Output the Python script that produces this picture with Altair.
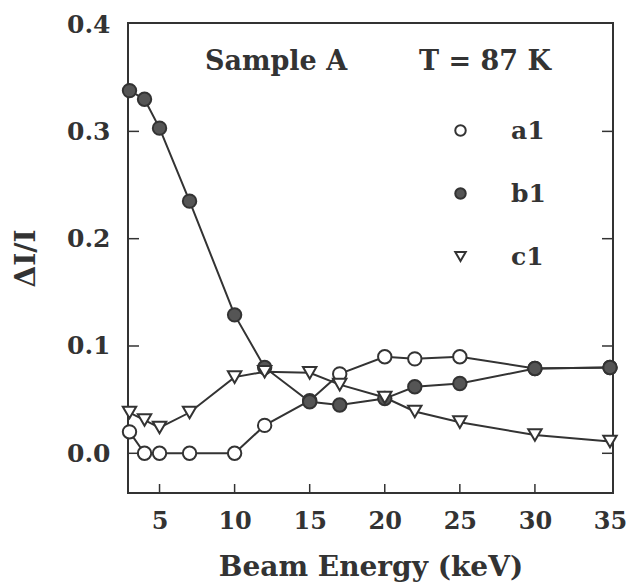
import altair as alt
import pandas as pd

energy = [3, 4, 5, 7, 10, 12, 15, 17, 20, 22, 25, 30, 35]
a1 = [0.020, 0.000, 0.000, 0.000, 0.000, 0.026, 0.049, 0.074, 0.090, 0.088, 0.090, 0.079, 0.080]
b1 = [0.338, 0.330, 0.303, 0.235, 0.129, 0.080, 0.048, 0.045, 0.051, 0.062, 0.065, 0.079, 0.080]
c1 = [0.038, 0.031, 0.024, 0.038, 0.071, 0.076, 0.075, 0.064, 0.052, 0.039, 0.029, 0.017, 0.011]
series_names = ["a1", "b1", "c1"]
x_ticks = [5, 10, 15, 20, 25, 30, 35]
y_ticks = [0.0, 0.1, 0.2, 0.3, 0.4]
title_left = "Sample A"
title_right = "T = 87 K"

rows = []
for name, vals in zip(series_names, [a1, b1, c1]):
    for e, v in zip(energy, vals):
        rows.append({"energy": e, "value": v, "series": name})
df = pd.DataFrame(rows)

W, H = 485, 470
FONT = "DejaVu Serif"
INK = "#333333"

xs = alt.Scale(domain=[2.9, 35.2], nice=False, zero=False)
ys = alt.Scale(domain=[-0.037, 0.401], nice=False, zero=False)

xax = alt.Axis(values=x_ticks, grid=False, domain=False, ticks=False, labelFont=FONT,
               labelFontSize=24, labelFontWeight="bold", labelColor=INK, labelPadding=16,
               title="Beam Energy (keV)", titleFont=FONT, titleFontSize=28, titleFontWeight="bold",
               titleColor=INK, titlePadding=20)
yax = alt.Axis(values=y_ticks, format=".1f", grid=False, domain=False, ticks=False, labelFont=FONT,
               labelFontSize=25, labelFontWeight="bold", labelColor=INK, labelPadding=18,
               title="ΔI/I", titleFont=FONT, titleFontSize=28, titleFontWeight="bold",
               titleColor=INK, titlePadding=26)

leg = alt.Legend(title=None, orient="none", legendX=320, legendY=95, padding=0,
                 labelFont=FONT, labelFontSize=25, labelFontWeight="bold",
                 labelColor=INK, labelOffset=38, rowPadding=37, symbolSize=110,
                 symbolStrokeWidth=2, symbolOpacity=1)

base = alt.Chart(df)
lines = base.mark_line(color=INK, strokeWidth=2).encode(
    x=alt.X("energy:Q", scale=xs, axis=xax),
    y=alt.Y("value:Q", scale=ys, axis=yax),
    detail="series:N",
)
points = base.mark_point(filled=False, size=180, strokeWidth=2, opacity=1).encode(
    x=alt.X("energy:Q", scale=xs),
    y=alt.Y("value:Q", scale=ys),
    shape=alt.Shape("series:N", scale=alt.Scale(domain=series_names, range=["circle", "circle", "triangle-down"]),
                    legend=leg),
    fill=alt.Fill("series:N", scale=alt.Scale(domain=series_names, range=["white", "#555555", "white"]),
                  legend=leg),
    stroke=alt.Stroke("series:N", scale=alt.Scale(domain=series_names, range=[INK, INK, INK]),
                      legend=leg),
)

xt = pd.DataFrame({"v": x_ticks[:-1]})
yt = pd.DataFrame({"v": y_ticks[:-1]})
bottom_ticks = alt.Chart(xt).mark_rule(color=INK, strokeWidth=1.5).encode(
    x=alt.X("v:Q", scale=xs), y=alt.value(H), y2=alt.value(H - 9))
left_ticks = alt.Chart(yt).mark_rule(color=INK, strokeWidth=1.5).encode(
    y=alt.Y("v:Q", scale=ys), x=alt.value(0), x2=alt.value(11))
right_ticks = alt.Chart(yt).mark_rule(color=INK, strokeWidth=1.5).encode(
    y=alt.Y("v:Q", scale=ys), x=alt.value(W - 11), x2=alt.value(W))

t1 = alt.Chart(pd.DataFrame({"t": [title_left]})).mark_text(
    font=FONT, fontSize=27, fontWeight="bold", color=INK, align="center", baseline="alphabetic"
).encode(text="t:N", x=alt.value(148), y=alt.value(47))
t2 = alt.Chart(pd.DataFrame({"t": [title_right]})).mark_text(
    font=FONT, fontSize=27, fontWeight="bold", color=INK, align="center", baseline="alphabetic"
).encode(text="t:N", x=alt.value(357), y=alt.value(47))

chart = alt.layer(lines, points, bottom_ticks, left_ticks, right_ticks, t1, t2).properties(
    width=W, height=H,
    autosize=alt.AutoSizeParams(type="none"),
    padding={"left": 128, "top": 23, "right": 18, "bottom": 89},
    background="white",
).configure_view(stroke=INK, strokeWidth=2)

chart.save("out.html", embed_options={"renderer": "svg", "actions": False})
